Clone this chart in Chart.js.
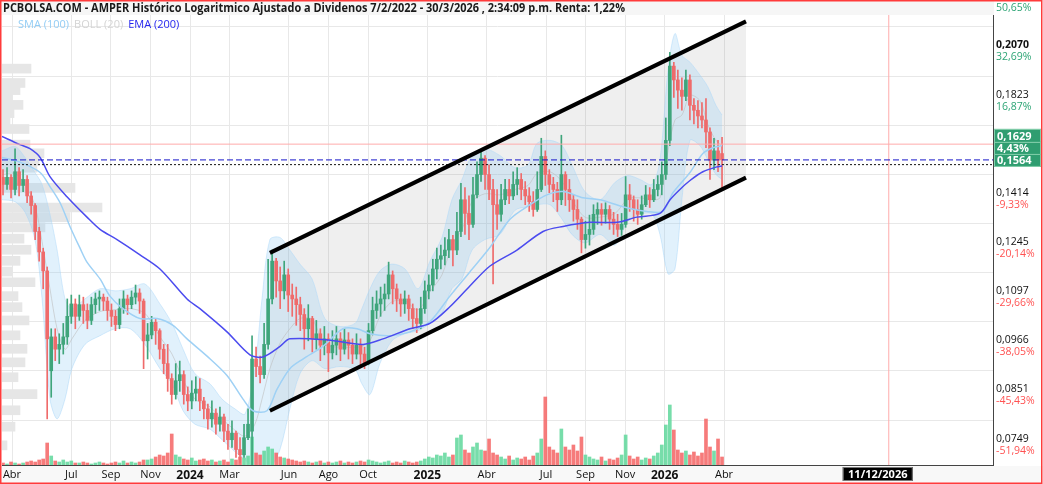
<!DOCTYPE html>
<html>
<head>
<meta charset="utf-8">
<script src="https://cdn.jsdelivr.net/npm/chart.js@4.4.1/dist/chart.umd.min.js"></script>
<style>
  html, body { margin: 0; padding: 0; background: #fff; }
  canvas { display: block; }
</style>
</head>
<body>
<canvas id="chart" width="1043" height="484"></canvas>
<script>
// AMPER - velas semanales aprox. (abril 2023 - marzo 2026), precios ajustados
const opens = [0.1495,0.1468,0.1495,0.1449,0.1517,0.1464,0.1487,0.1425,0.1390,0.1300,
  0.1233,0.1174,0.0907,0.0990,0.0959,0.0971,0.0990,0.1044,0.1078,0.1044,
  0.1076,0.1060,0.1033,0.1076,0.1092,0.1097,0.1086,0.1060,0.1044,0.1022,
  0.1065,0.1092,0.1076,0.1097,0.1109,0.1086,0.0980,0.0995,0.1028,0.1006,
  0.0959,0.0924,0.0889,0.0853,0.0884,0.0898,0.0853,0.0839,0.0856,0.0865,
  0.0839,0.0822,0.0801,0.0813,0.0790,0.0805,0.0776,0.0759,0.0772,0.0740,
  0.0730,0.0763,0.0776,0.0935,0.0917,0.0898,0.0971,0.1092,0.1204,0.1144,
  0.1115,0.1162,0.1103,0.1092,0.1076,0.1049,0.1011,0.1038,0.0985,0.0998,
  0.0969,0.0985,0.0950,0.0969,0.0985,0.0959,0.0982,0.0969,0.0947,0.0969,
  0.0947,0.0926,0.1006,0.1060,0.1078,0.1092,0.1106,0.1162,0.1121,0.1092,
  0.1078,0.1092,0.1065,0.1038,0.1025,0.1065,0.1115,0.1132,0.1180,0.1210,
  0.1221,0.1239,0.1273,0.1239,0.1300,0.1411,0.1362,0.1324,0.1429,0.1506,
  0.1571,0.1506,0.1449,0.1393,0.1359,0.1411,0.1449,0.1425,0.1468,0.1487,
  0.1449,0.1425,0.1404,0.1376,0.1449,0.1578,0.1506,0.1468,0.1449,0.1411,
  0.1506,0.1449,0.1411,0.1376,0.1342,0.1273,0.1290,0.1307,0.1359,0.1376,
  0.1359,0.1376,0.1342,0.1324,0.1307,0.1324,0.1429,0.1411,0.1376,0.1359,
  0.1393,0.1429,0.1411,0.1449,0.1468,0.1506,0.1645,0.1993,0.1923,0.1873,
  0.1843,0.1923,0.1801,0.1778,0.1752,0.1734,0.1681,0.1563,0.1601,0.1590];
const highs = [0.1525,0.1533,0.1506,0.1609,0.1533,0.1525,0.1502,0.1441,0.1397,0.1314,
  0.1245,0.1186,0.1011,0.1011,0.0998,0.1025,0.1092,0.1103,0.1092,0.1103,
  0.1097,0.1078,0.1097,0.1109,0.1115,0.1106,0.1097,0.1078,0.1060,0.1092,
  0.1115,0.1103,0.1115,0.1132,0.1121,0.1092,0.1025,0.1044,0.1038,0.1011,
  0.0971,0.0971,0.0900,0.0924,0.0930,0.0907,0.0870,0.0884,0.0893,0.0889,
  0.0847,0.0832,0.0839,0.0822,0.0826,0.0811,0.0790,0.0797,0.0776,0.0763,
  0.0790,0.0822,0.0993,0.0964,0.0942,0.1025,0.1210,0.1239,0.1213,0.1186,
  0.1204,0.1180,0.1135,0.1126,0.1097,0.1065,0.1076,0.1044,0.1033,0.1011,
  0.1017,0.0998,0.1006,0.1017,0.1001,0.1011,0.1001,0.0985,0.0998,0.0985,
  0.0964,0.1025,0.1097,0.1115,0.1126,0.1135,0.1201,0.1174,0.1135,0.1106,
  0.1115,0.1103,0.1078,0.1065,0.1097,0.1144,0.1162,0.1210,0.1245,0.1255,
  0.1280,0.1307,0.1287,0.1366,0.1472,0.1456,0.1425,0.1495,0.1556,0.1601,
  0.1582,0.1544,0.1487,0.1449,0.1468,0.1487,0.1487,0.1517,0.1533,0.1510,
  0.1479,0.1456,0.1441,0.1517,0.1654,0.1601,0.1525,0.1495,0.1476,0.1667,
  0.1517,0.1487,0.1429,0.1411,0.1349,0.1335,0.1356,0.1393,0.1400,0.1397,
  0.1400,0.1390,0.1366,0.1359,0.1362,0.1498,0.1468,0.1425,0.1411,0.1425,
  0.1464,0.1456,0.1487,0.1502,0.1556,0.1743,0.2065,0.2013,0.1973,0.1933,
  0.1973,0.1948,0.1832,0.1823,0.1814,0.1832,0.1699,0.1654,0.1645,0.1658];
const lows = [0.1429,0.1449,0.1418,0.1429,0.1425,0.1441,0.1400,0.1359,0.1273,0.1204,
  0.1121,0.0801,0.0847,0.0931,0.0924,0.0947,0.0971,0.1025,0.1011,0.1033,
  0.1025,0.1011,0.1022,0.1052,0.1060,0.1060,0.1033,0.1017,0.1006,0.1011,
  0.1052,0.1049,0.1065,0.1078,0.1052,0.0912,0.0935,0.0985,0.0971,0.0935,
  0.0900,0.0860,0.0832,0.0843,0.0860,0.0832,0.0818,0.0822,0.0839,0.0818,
  0.0801,0.0780,0.0784,0.0770,0.0776,0.0755,0.0740,0.0744,0.0725,0.0715,
  0.0725,0.0759,0.0711,0.0893,0.0879,0.0889,0.0959,0.1078,0.1097,0.1065,
  0.1092,0.1057,0.1044,0.1020,0.1006,0.0959,0.0980,0.0952,0.0959,0.0931,
  0.0945,0.0905,0.0935,0.0945,0.0931,0.0947,0.0935,0.0924,0.0935,0.0921,
  0.0912,0.0921,0.0995,0.1038,0.1044,0.1060,0.1092,0.1078,0.1057,0.1044,
  0.1052,0.1033,0.1011,0.1001,0.1011,0.1052,0.1092,0.1115,0.1150,0.1180,
  0.1192,0.1215,0.1189,0.1224,0.1283,0.1290,0.1273,0.1314,0.1418,0.1479,
  0.1449,0.1411,0.1135,0.1307,0.1335,0.1393,0.1397,0.1411,0.1429,0.1411,
  0.1393,0.1369,0.1352,0.1369,0.1441,0.1464,0.1437,0.1404,0.1369,0.1393,
  0.1390,0.1369,0.1335,0.1307,0.1230,0.1245,0.1255,0.1290,0.1324,0.1321,
  0.1328,0.1307,0.1290,0.1283,0.1287,0.1314,0.1369,0.1335,0.1324,0.1342,
  0.1386,0.1383,0.1404,0.1425,0.1429,0.1487,0.1623,0.1838,0.1787,0.1778,
  0.1823,0.1734,0.1716,0.1699,0.1699,0.1614,0.1487,0.1525,0.1517,0.1449];
const closes = [0.1468,0.1495,0.1449,0.1517,0.1464,0.1487,0.1425,0.1390,0.1300,0.1233,
  0.1174,0.0985,0.0990,0.0959,0.0971,0.0990,0.1044,0.1078,0.1044,0.1076,
  0.1060,0.1033,0.1076,0.1092,0.1097,0.1086,0.1060,0.1044,0.1022,0.1065,
  0.1092,0.1076,0.1097,0.1109,0.1086,0.0980,0.0995,0.1028,0.1006,0.0959,
  0.0924,0.0889,0.0853,0.0884,0.0898,0.0853,0.0839,0.0856,0.0865,0.0839,
  0.0822,0.0801,0.0813,0.0790,0.0805,0.0776,0.0759,0.0772,0.0740,0.0730,
  0.0763,0.0790,0.0935,0.0917,0.0898,0.0971,0.1092,0.1204,0.1144,0.1115,
  0.1162,0.1103,0.1092,0.1076,0.1049,0.1011,0.1038,0.0985,0.0998,0.0969,
  0.0985,0.0950,0.0969,0.0985,0.0959,0.0982,0.0969,0.0947,0.0969,0.0947,
  0.0926,0.1006,0.1060,0.1078,0.1092,0.1106,0.1162,0.1121,0.1092,0.1078,
  0.1092,0.1065,0.1038,0.1025,0.1065,0.1115,0.1132,0.1180,0.1210,0.1221,
  0.1239,0.1273,0.1239,0.1300,0.1411,0.1362,0.1324,0.1429,0.1506,0.1571,
  0.1506,0.1449,0.1393,0.1359,0.1411,0.1449,0.1425,0.1468,0.1487,0.1449,
  0.1425,0.1404,0.1376,0.1449,0.1578,0.1506,0.1468,0.1449,0.1411,0.1506,
  0.1449,0.1411,0.1376,0.1342,0.1273,0.1290,0.1307,0.1359,0.1376,0.1359,
  0.1376,0.1342,0.1324,0.1307,0.1324,0.1429,0.1411,0.1376,0.1359,0.1393,
  0.1429,0.1411,0.1449,0.1468,0.1506,0.1645,0.1993,0.1923,0.1873,0.1843,
  0.1923,0.1801,0.1778,0.1752,0.1734,0.1681,0.1563,0.1601,0.1563,0.1564];
const volumes = [2,1,3,2,1,2,3,4,3,5,
  6,22,9,4,3,5,3,4,2,
  2,3,2,1,2,3,2,1,2,3,2,4,2,3,2,3,5,
  5,6,8,10,9,12,31,10,8,
  6,5,7,4,5,6,4,5,3,4,5,3,6,5,8,7,
  9,28,12,10,14,18,16,12,8,7,6,
  5,4,3,4,3,2,3,4,2,3,2,3,4,2,3,2,3,4,3,5,4,3,2,3,4,2,3,2,4,3,2,3,4,6,
  8,7,10,9,12,8,10,
  27,30,15,12,18,22,15,14,26,12,10,
  8,6,9,5,7,6,8,5,9,
  12,26,68,18,15,12,36,18,15,20,14,28,10,8,
  6,5,8,4,6,5,7,
  10,30,9,6,8,5,7,6,9,12,20,40,60,35,15,12,14,10,13,9,12,46,18,14,26,8];

// eje temporal en meses desde abril 2023
const firstCandleMonth = -0.455;
const candleStepMonths = 0.2031;

// volumen por precio (perfil a la izquierda)
const profilePrices = [0.1980,0.1908,0.1873,0.1836,0.1803,0.1765,0.1730,0.1694,0.1627,0.1591,
  0.1561,0.1533,0.1455,0.1383,0.1349,0.1314,0.1276,0.1240,0.1205,0.1172,
  0.1140,0.1100,0.1069,0.1033,0.0994,0.0960,0.0927,0.0892,0.0854,0.0819,0.0785,0.0748];
const profileVolumes = [29,23,18,10,21,12,8,27,28,42,37,35,73,100,68,43,22,29,18,10,33,16,20,27,18,25,23,16,35,18,13,5];

// EMA (200)
const emaMonths = [-0.51,0.40,0.91,1.42,1.92,2.78,3.79,4.45,5.31,6.47,7.48,8.85,9.50,10.87,12.03,
  12.69,13.55,14.05,15.98,17.75,18.76,20.12,21.13,22.14,23.15,24.17,25.53,26.85,27.86,29.22,
  30.59,31.60,32.76,33.27,33.77,34.28,34.93,35.64,35.90];
const emaValues = [0.1662,0.1627,0.1610,0.1574,0.1498,0.1422,0.1349,0.1307,0.1273,0.1224,0.1180,0.1092,0.1065,0.1003,0.0945,
  0.0940,0.0966,0.0985,0.0982,0.0971,0.0985,0.1011,0.1025,0.1070,0.1129,0.1189,0.1239,0.1300,0.1317,0.1331,
  0.1331,0.1349,0.1362,0.1411,0.1449,0.1483,0.1517,0.1536,0.1540];

// SMA (100)
const smaMonths = [-0.51,0.40,1.42,1.92,2.43,2.93,3.44,3.79,4.45,4.95,5.61,6.47,7.33,8.14,8.85,
  9.86,10.87,11.68,12.18,12.89,13.40,14.05,14.71,15.72,16.73,17.44,18.10,19.11,20.12,21.13,
  22.14,23.15,24.17,25.18,26.19,27.05,27.86,28.87,29.73,30.89,32.10,32.91,33.42,34.28,34.93,35.44,35.90];
const smaValues = [0.1574,0.1555,0.1514,0.1460,0.1400,0.1317,0.1245,0.1201,0.1150,0.1100,0.1065,0.1038,0.1038,0.1020,0.0985,
  0.0942,0.0896,0.0843,0.0818,0.0818,0.0865,0.0912,0.0935,0.0966,0.1011,0.1011,0.0998,0.0993,0.1003,0.1030,
  0.1100,0.1171,0.1248,0.1342,0.1393,0.1429,0.1441,0.1418,0.1411,0.1386,0.1369,0.1369,0.1437,0.1514,0.1590,0.1614,0.1623];

// BOLL (20)
const bollMonths = [-0.51,0.15,0.66,1.16,1.52,1.92,2.28,2.68,3.03,3.69,4.45,5.21,5.97,6.72,7.48,
  8.09,8.65,9.25,10.01,10.62,11.27,11.78,12.28,12.64,13.04,13.55,14.05,14.56,15.17,15.82,
  16.58,17.34,17.69,18.10,18.60,19.21,19.87,20.53,21.13,21.74,22.24,22.75,23.26,23.91,24.67,
  25.43,26.09,26.54,27.20,27.81,28.31,28.97,29.73,30.49,31.14,31.75,32.36,32.76,33.17,33.52,
  33.87,34.28,34.78,35.19,35.59,35.90];
const bollUpper = [0.1601,0.1619,0.1574,0.1514,0.1468,0.1359,0.1239,0.1092,0.1065,0.1092,0.1121,0.1115,0.1121,0.1135,0.1078,
  0.1025,0.0959,0.0900,0.0877,0.0843,0.0822,0.0811,0.0912,0.1092,0.1273,0.1280,0.1239,0.1195,0.1150,0.1038,
  0.1017,0.1025,0.1065,0.1121,0.1174,0.1195,0.1180,0.1121,0.1204,0.1280,0.1411,0.1487,0.1582,0.1609,0.1582,
  0.1533,0.1544,0.1632,0.1645,0.1623,0.1544,0.1441,0.1411,0.1476,0.1502,0.1487,0.1468,0.1563,0.1973,0.2168,
  0.2049,0.2013,0.1948,0.1888,0.1801,0.1756];
const bollLower = [0.1411,0.1404,0.1366,0.1273,0.1092,0.0843,0.0801,0.0843,0.0912,0.0971,0.0993,0.1011,0.1011,0.0971,0.0912,
  0.0877,0.0818,0.0790,0.0780,0.0759,0.0736,0.0721,0.0705,0.0705,0.0705,0.0740,0.0822,0.0900,0.0931,0.0912,
  0.0917,0.0910,0.0877,0.0853,0.0924,0.0980,0.0998,0.1006,0.1025,0.1052,0.1121,0.1150,0.1239,0.1273,0.1290,
  0.1373,0.1386,0.1393,0.1393,0.1342,0.1290,0.1262,0.1290,0.1255,0.1335,0.1359,0.1359,0.1290,0.1165,0.1180,
  0.1411,0.1645,0.1623,0.1563,0.1506,0.1487];
const bollMiddle = [0.1506,0.1510,0.1468,0.1390,0.1266,0.1121,0.1011,0.0959,0.0985,0.1033,0.1057,0.1062,0.1065,0.1052,0.0990,
  0.0947,0.0886,0.0843,0.0826,0.0801,0.0778,0.0766,0.0790,0.0843,0.0912,0.0974,0.1011,0.1038,0.1036,0.0971,
  0.0964,0.0964,0.0966,0.0980,0.1044,0.1084,0.1086,0.1062,0.1112,0.1162,0.1255,0.1307,0.1404,0.1433,0.1429,
  0.1449,0.1464,0.1510,0.1517,0.1479,0.1411,0.1349,0.1349,0.1362,0.1414,0.1418,0.1411,0.1418,0.1601,0.1734,
  0.1756,0.1848,0.1823,0.1712,0.1645,0.1623];

// canal alcista
const channelMonths = [13.04, 37.11];
const channelUpper = [0.1230, 0.2237];
const channelLower = [0.0818, 0.1494];

// niveles
const lastPrice = 0.1629;
const lastClose = 0.1564;
const emaLevel = 0.1545;
const changeText = '4,43%';
const markerMonth = 44.33;
const markerLabel = '11/12/2026';

// ticks
const xTickMonths = [0, 3, 5, 7, 9, 11, 14, 16, 18, 21, 24, 27, 29, 31, 33, 36];
const xTickLabels = ['Abr','Jul','Sep','Nov','2024','Mar','Jun','Ago','Oct','2025','Abr','Jul','Sep','Nov','2026','Abr'];
const yTickValues = [0.2351, 0.2070, 0.1823, 0.1605, 0.1414, 0.1245, 0.1097, 0.0966, 0.0851, 0.0749];
const yPriceLabels = ['', '0,2070', '0,1823', '0,1605', '0,1414', '0,1245', '0,1097', '0,0966', '0,0851', '0,0749'];
const yPctLabels = ['50,65%', '32,69%', '16,87%', '2,89%', '-9,33%', '-20,14%', '-29,66%', '-38,05%', '-45,43%', '-51,94%'];

const titleText = 'PCBOLSA.COM - AMPER Histórico Logaritmico Ajustado a Dividenos 7/2/2022 - 30/3/2026 , 2:34:09 p.m. Renta: 1,22%';

const xMin = -0.506, xMax = 49.6;
const yMin = 0.0711, yMax = 0.2352;
const upColor = '#3fa57b', downColor = '#ef6b6b';
const volUp = 'rgba(95,215,155,0.85)', volDown = 'rgba(245,100,100,0.85)';

const candleMonths = closes.map((_, i) => firstCandleMonth + i * candleStepMonths);
const isUp = closes.map((c, i) => c >= opens[i]);
const pts = (xs, ys) => xs.map((x, i) => ({ x: x, y: ys[i] }));
const hline = v => [{ x: xMin, y: v }, { x: xMax, y: v }];
const font = (size, weight) => ({ family: "'Open Sans', sans-serif", size: size, weight: weight || 'normal' });
const noPad = s => { s.paddingTop = 0; s.paddingBottom = 0; s.paddingLeft = 0; s.paddingRight = 0; };

const decor = {
  id: 'decor',
  afterLayout(chart) {
    // las etiquetas de % comparten la columna del eje de precios
    const p = chart.scales.yPct, q = chart.scales.y;
    p.left = q.left; p.right = q.right; p.width = q.width;
  },
  beforeDraw(chart) {
    const c = chart.ctx;
    c.save();
    c.fillStyle = '#f8f8f8';
    c.fillRect(0, chart.chartArea.bottom + 1, chart.width, chart.height);
    c.restore();
  },
  afterDraw(chart) {
    const c = chart.ctx, area = chart.chartArea;
    const ys = chart.scales.y, xs = chart.scales.x;
    c.save();

    // banda del titulo
    c.fillStyle = '#f6f6f6';
    c.fillRect(1, 1, area.right, 14);
    c.fillStyle = '#1a1a1a';
    c.font = "bold 12px 'Liberation Sans Narrow', 'Open Sans'";
    c.textBaseline = 'middle';
    const tw = c.measureText(titleText).width;
    c.save();
    c.translate(3, 8.5);
    c.scale(Math.min(1, 622 / tw), 1);
    c.fillText(titleText, 0, 0);
    c.restore();

    // leyenda
    c.font = "11px 'Open Sans'";
    let lx = 18;
    [['SMA (100)', '#93cdf5'], ['BOLL (20)', '#d4d4d4'], ['EMA (200)', '#2626ee']].forEach(item => {
      c.fillStyle = item[1];
      c.fillText(item[0], lx, 25);
      lx += c.measureText(item[0]).width + 5;
    });

    // cajas de precio a la derecha
    const box = (text, top, bottom) => {
      c.fillStyle = '#2f9d70';
      c.fillRect(area.right + 1, top, 47, bottom - top);
      c.strokeStyle = '#86cfac';
      c.lineWidth = 1;
      c.strokeRect(area.right + 1.5, top + 0.5, 46, bottom - top - 1);
      c.fillStyle = '#fff';
      c.font = "bold 11px 'Open Sans'";
      c.fillText(text, area.right + 4, (top + bottom) / 2 + 0.5);
    };
    const yb = ys.getPixelForValue(lastClose);
    box(lastPrice.toFixed(4).replace('.', ','), yb - 31, yb - 17);
    box(lastClose.toFixed(4).replace('.', ','), yb - 6, yb + 7);
    box(changeText, yb - 18, yb - 5);

    // etiqueta de fecha
    const mx = xs.getPixelForValue(markerMonth);
    c.fillStyle = '#000';
    c.fillRect(mx - 46, area.bottom + 2, 70, 14);
    c.strokeStyle = '#777';
    c.strokeRect(mx - 45.5, area.bottom + 2.5, 69, 13);
    c.fillStyle = '#fff';
    c.font = "bold 11px 'Open Sans'";
    c.textAlign = 'center';
    c.fillText(markerLabel, mx - 11, area.bottom + 9.5);

    // marco
    c.strokeStyle = '#ff3b3b';
    c.lineWidth = 1.5;
    c.strokeRect(0.75, 0.75, chart.width - 2, chart.height - 1.5);
    c.restore();
  }
};

new Chart(document.getElementById('chart'), {
  type: 'bar',
  data: {
    datasets: [
      { type: 'bar', indexAxis: 'y', xAxisID: 'xp', yAxisID: 'y', order: 10, grouped: false,
        data: profilePrices.map((p, i) => ({ x: profileVolumes[i], y: p })),
        backgroundColor: '#e6e6e6', barThickness: 9 },
      { type: 'line', xAxisID: 'x', yAxisID: 'y', order: 9, data: pts(channelMonths, channelUpper),
        borderWidth: 0, pointRadius: 0, fill: '+1', backgroundColor: 'rgba(120,120,120,0.12)' },
      { type: 'line', xAxisID: 'x', yAxisID: 'y', order: 9, data: pts(channelMonths, channelLower),
        borderWidth: 0, pointRadius: 0, fill: false },
      { type: 'line', xAxisID: 'x', yAxisID: 'y', order: 8, data: pts(bollMonths, bollUpper),
        borderWidth: 0.8, borderColor: 'rgba(170,215,248,0.6)', pointRadius: 0, tension: 0.3,
        fill: '+1', backgroundColor: 'rgba(140,200,245,0.26)' },
      { type: 'line', xAxisID: 'x', yAxisID: 'y', order: 8, data: pts(bollMonths, bollLower),
        borderWidth: 0.8, borderColor: 'rgba(170,215,248,0.6)', pointRadius: 0, tension: 0.3, fill: false },
      { type: 'line', xAxisID: 'x', yAxisID: 'y', order: 7, data: pts(bollMonths, bollMiddle),
        borderWidth: 1, borderColor: 'rgba(190,190,190,0.6)', pointRadius: 0, tension: 0.3, fill: false },
      { type: 'bar', xAxisID: 'x', yAxisID: 'yv', order: 6, grouped: false,
        data: pts(candleMonths, volumes),
        backgroundColor: isUp.map(u => u ? volUp : volDown), barThickness: 3 },
      { type: 'bar', xAxisID: 'x', yAxisID: 'y', order: 5, grouped: false,
        data: candleMonths.map((m, i) => ({ x: m, y: [lows[i], highs[i]] })),
        backgroundColor: isUp.map(u => u ? upColor : downColor), barThickness: 1 },
      { type: 'bar', xAxisID: 'x', yAxisID: 'y', order: 4, grouped: false, minBarLength: 1,
        data: candleMonths.map((m, i) => ({ x: m, y: [opens[i], closes[i]] })),
        backgroundColor: isUp.map(u => u ? upColor : downColor), barThickness: 3 },
      { type: 'line', xAxisID: 'x', yAxisID: 'y', order: 3, data: pts(smaMonths, smaValues),
        borderWidth: 1.5, borderColor: '#9fd1f5', pointRadius: 0, tension: 0.3, fill: false },
      { type: 'line', xAxisID: 'x', yAxisID: 'y', order: 2, data: pts(emaMonths, emaValues),
        borderWidth: 1.5, borderColor: '#4b4bef', pointRadius: 0, tension: 0.3, fill: false },
      { type: 'line', xAxisID: 'x', yAxisID: 'y', order: 1, data: hline(lastPrice),
        borderWidth: 1, borderColor: '#ffabab', pointRadius: 0, fill: false },
      { type: 'line', xAxisID: 'x', yAxisID: 'y', order: 1, data: hline(lastClose),
        borderWidth: 1, borderColor: '#1515c8', borderDash: [6, 3], pointRadius: 0, fill: false },
      { type: 'line', xAxisID: 'x', yAxisID: 'y', order: 1, data: hline(emaLevel),
        borderWidth: 1, borderColor: '#111', borderDash: [2, 2], pointRadius: 0, fill: false },
      { type: 'line', xAxisID: 'x', yAxisID: 'y', order: 1,
        data: [{ x: markerMonth, y: yMin }, { x: markerMonth, y: yMax }],
        borderWidth: 1, borderColor: '#ffabab', pointRadius: 0, fill: false },
      { type: 'line', xAxisID: 'x', yAxisID: 'y', order: 0, data: pts(channelMonths, channelUpper),
        borderWidth: 4, borderColor: '#000', pointRadius: 0, fill: false },
      { type: 'line', xAxisID: 'x', yAxisID: 'y', order: 0, data: pts(channelMonths, channelLower),
        borderWidth: 4, borderColor: '#000', pointRadius: 0, fill: false }
    ]
  },
  options: {
    responsive: false,
    animation: false,
    layout: { padding: { left: 2, top: 2, right: 0, bottom: 0 } },
    plugins: { legend: { display: false }, tooltip: { enabled: false } },
    scales: {
      x: {
        type: 'linear', position: 'bottom', min: xMin, max: xMax, offset: false,
        afterBuildTicks: s => { s.ticks = xTickMonths.map(v => ({ value: v })); },
        afterFit: s => { s.height = 19; noPad(s); },
        grid: { color: '#e8e8e8', drawTicks: false, offset: false },
        border: { color: '#444' },
        ticks: {
          autoSkip: false, maxRotation: 0, padding: 3, color: '#111',
          callback: (v, i) => xTickLabels[i],
          font: c => /^\d{4}$/.test(xTickLabels[c.index]) ? font(12, 'bold') : font(11)
        }
      },
      y: {
        type: 'logarithmic', position: 'right', weight: 1, min: yMin, max: yMax,
        afterBuildTicks: s => { s.ticks = yTickValues.map(v => ({ value: v })); },
        afterFit: s => { s.width = 50; noPad(s); },
        grid: { color: '#e8e8e8', drawTicks: false },
        border: { color: '#444' },
        ticks: {
          autoSkip: false, padding: 3, labelOffset: -6, color: '#111',
          callback: (v, i) => yPriceLabels[i],
          font: c => c.index === 1 ? font(10.5, 'bold') : font(10.5)
        }
      },
      yPct: {
        type: 'logarithmic', position: 'right', weight: 0, min: yMin, max: yMax,
        afterBuildTicks: s => { s.ticks = yTickValues.map(v => ({ value: v })); },
        afterFit: s => { s.width = 0; noPad(s); },
        grid: { display: false, drawTicks: false },
        border: { display: false },
        ticks: {
          autoSkip: false, padding: 3, labelOffset: 6,
          color: c => yPctLabels[c.index].charAt(0) === '-' ? '#ff5252' : '#2ea576',
          callback: (v, i) => yPctLabels[i],
          font: font(10.5)
        }
      },
      xp: { type: 'linear', min: 0, max: 991, display: false, offset: false },
      yv: { type: 'linear', min: 0, max: 463, display: false }
    }
  },
  plugins: [decor]
});
</script>
</body>
</html>
